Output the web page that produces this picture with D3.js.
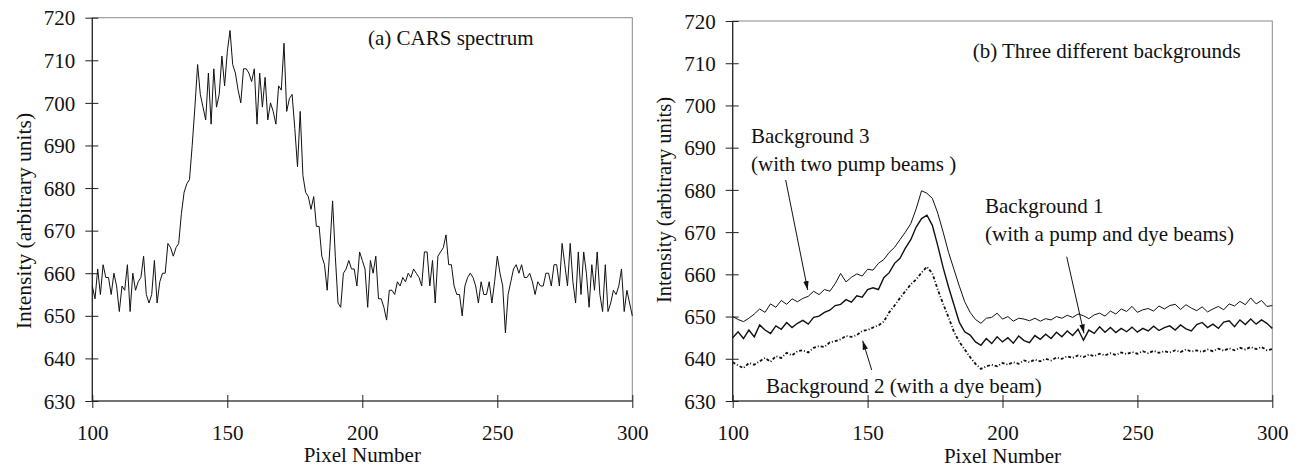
<!DOCTYPE html>
<html>
<head>
<meta charset="utf-8">
<script src="https://cdn.jsdelivr.net/npm/d3@7"></script>
<style>
  body { margin: 0; background: #fff; }
  svg text { font-family: "Liberation Serif", "Times New Roman", serif; fill: #111; }
</style>
</head>
<body>
<div id="chart"></div>
<script>
// ---- data ----
const pixelTicks = [100, 150, 200, 250, 300];
const intensityTicks = [630, 640, 650, 660, 670, 680, 690, 700, 710, 720];

// (a) CARS spectrum, one value per pixel from 100 to 300
const CARS_START = 100;
const carsSpectrum = [
  657, 654, 661, 655, 662, 659, 659, 655, 660, 657,
  651, 657, 656, 662, 651, 660, 656, 658, 659, 664,
  655, 653, 655, 663, 653, 658, 660, 660, 667, 666,
  664, 666, 667, 674, 679, 681, 682, 690, 699, 709,
  702, 699, 696, 707, 695, 708, 699, 702, 711, 704,
  712, 717, 709, 707, 703, 700, 708, 708, 707, 705,
  708, 695, 707, 699, 706, 696, 700, 698, 695, 704,
  703, 714, 698, 701, 702, 694, 685, 698, 683, 679,
  678, 675, 678, 671, 671, 664, 662, 656, 666, 677,
  664, 653, 652, 660, 661, 663, 661, 661, 657, 665,
  663, 661, 652, 663, 660, 664, 654, 654, 652, 649,
  656, 656, 655, 658, 657, 659, 658, 660, 659, 661,
  660, 659, 657, 665, 665, 657, 663, 653, 664, 665,
  666, 669, 662, 662, 657, 655, 655, 650, 657, 659,
  660, 659, 657, 653, 658, 655, 655, 658, 653, 658,
  664, 660, 657, 646, 655, 658, 661, 662, 660, 662,
  659, 659, 660, 658, 655, 658, 657, 657, 660, 660,
  657, 662, 662, 657, 667, 662, 657, 667, 658, 653,
  665, 655, 665, 660, 652, 662, 656, 665, 655, 651,
  662, 651, 653, 656, 655, 657, 661, 651, 656, 653,
  650
];

// (b) backgrounds, every 2nd pixel from 100 to 300
const BG_START = 100;
const BG_STEP = 2;
const background3 = [
  650.0, 649.3, 648.8, 649.6, 650.6, 651.8, 651.0, 653.0, 652.2, 653.8,
  652.9, 654.2, 653.5, 654.3, 654.8, 656.0, 655.2, 656.4, 656.0, 657.8,
  660.2, 658.2, 659.3, 660.1, 659.6, 661.2, 661.0, 662.6, 663.5, 665.2,
  666.4, 668.2, 670.0, 672.0, 675.5, 679.8, 679.2, 678.0, 674.5, 670.0,
  665.2, 661.2, 657.2, 653.5, 651.0, 649.3, 648.4, 649.6, 649.8, 650.8,
  649.4, 650.0, 648.9, 649.6, 649.4, 649.0, 649.6, 648.9, 649.5, 649.2,
  650.0, 649.6, 650.3, 649.8, 650.6, 650.2, 649.5, 650.4, 650.8, 650.1,
  651.3, 650.6, 651.8, 651.2, 652.4, 651.0, 651.6, 651.9, 651.3, 652.5,
  651.8, 652.6, 652.9, 651.7, 652.8, 652.0, 651.4, 652.3, 651.1, 651.8,
  652.4, 651.6, 653.0, 652.5, 653.6, 652.8, 654.4, 653.0, 653.8, 652.4,
  652.6
];
const background1 = [
  645.0, 646.4, 644.8, 646.8, 645.2, 648.0, 646.8, 646.0, 647.8, 647.0,
  648.6, 647.4, 648.4, 649.1, 648.2, 649.8, 650.1, 651.0, 651.5, 652.6,
  652.9, 654.0, 653.4, 654.9, 654.6, 656.4, 656.8, 656.4, 659.2, 660.4,
  662.6, 663.8, 666.2, 668.2, 671.2, 673.2, 674.0, 671.6, 666.8, 661.6,
  657.0, 652.8, 648.6, 646.4, 645.6, 644.0, 643.2, 644.8, 643.6, 645.2,
  644.0, 645.0, 643.7, 645.4, 644.3, 643.8, 645.5, 644.6, 645.8, 644.8,
  646.3, 645.2, 646.6, 645.5, 647.0, 644.4, 646.8, 646.0, 647.6, 646.3,
  647.4, 646.2, 647.2, 646.4, 647.5, 646.3, 647.2, 646.6, 647.7, 646.7,
  647.4, 647.8, 646.8, 648.0, 647.1, 646.6, 648.1, 648.6, 647.4, 648.2,
  647.2, 648.7, 649.0, 647.6, 649.2, 648.1, 649.4, 648.2, 649.2, 648.4,
  647.2
];
const background2 = [
  639.2, 638.4, 637.8, 639.0, 638.6, 639.4, 640.2, 639.3, 640.6, 640.2,
  641.4, 640.8, 641.8, 642.0, 641.5, 642.6, 643.0, 642.8, 643.9, 644.2,
  644.6, 645.4, 645.2, 645.6, 646.6, 646.8, 647.4, 647.9, 648.8, 651.0,
  652.6, 654.4, 656.0, 657.6, 658.8, 660.4, 661.8, 660.2, 656.4, 653.0,
  649.8, 646.4, 644.0, 642.2, 640.4, 638.8, 637.6, 638.2, 638.6, 638.2,
  639.0, 638.6, 639.2, 638.8, 639.6, 639.2, 639.8, 639.4, 640.0, 639.6,
  640.3, 640.0, 640.6, 640.2, 640.8, 640.4, 641.0, 640.6, 641.2, 640.8,
  641.3, 640.9, 641.5, 641.1, 641.6, 641.2, 641.8, 641.3, 641.9, 641.4,
  641.8, 641.5, 642.0, 641.6, 642.2, 641.7, 642.0, 641.6, 642.2, 641.8,
  642.4, 641.9, 642.5, 642.0, 642.6, 642.2, 642.8, 642.3, 642.8, 642.0,
  642.3
];

// ---- layout ----
const WIDTH = 1302;
const HEIGHT = 469;
const FONT = 21;

const svg = d3.select("#chart").append("svg")
  .attr("width", WIDTH)
  .attr("height", HEIGHT);

const defs = svg.append("defs");
defs.append("marker")
  .attr("id", "arrow")
  .attr("viewBox", "0 0 10 6")
  .attr("refX", 10)
  .attr("refY", 3)
  .attr("markerUnits", "userSpaceOnUse")
  .attr("markerWidth", 9)
  .attr("markerHeight", 6)
  .attr("orient", "auto")
  .append("path")
  .attr("d", "M0,0 L10,3 L0,6 Z")
  .attr("fill", "#111");

function toPoints(values, start, step) {
  return values.map((v, i) => ({ p: start + i * step, v: v }));
}

function drawPanel(box) {
  let x = d3.scaleLinear().domain([100, 300]).range([box.left, box.left + box.width]);
  let y = d3.scaleLinear().domain([630, 720]).range([box.top + box.height, box.top]);
  let g = svg.append("g");

  // plot frame: light top/right, dark left/bottom
  g.append("rect")
    .attr("x", box.left).attr("y", box.top)
    .attr("width", box.width).attr("height", box.height)
    .attr("fill", "none").attr("stroke", "#8a8a8a").attr("stroke-width", 1);

  // y axis, ticks crossing the line
  let yAxis = g.append("g")
    .attr("transform", "translate(" + box.left + ",0)")
    .call(d3.axisLeft(y).tickValues(intensityTicks).tickSize(7).tickPadding(0));
  yAxis.select(".domain").attr("stroke", "#222").attr("stroke-width", 1.2)
    .attr("d", "M0," + box.top + "V" + (box.top + box.height));
  yAxis.selectAll(".tick line").attr("x1", -7).attr("x2", 6).attr("stroke", "#222");
  yAxis.selectAll(".tick text")
    .attr("x", -17).attr("dy", "0.34em")
    .attr("font-size", FONT).attr("fill", "#111")
    .style("font-family", "'Liberation Serif', serif");

  // x axis
  let xAxis = g.append("g")
    .attr("transform", "translate(0," + (box.top + box.height) + ")")
    .call(d3.axisBottom(x).tickValues(pixelTicks).tickSize(7).tickPadding(0));
  xAxis.select(".domain").attr("stroke", "#222").attr("stroke-width", 1.2)
    .attr("d", "M" + box.left + ",0H" + (box.left + box.width));
  xAxis.selectAll(".tick line").attr("y1", -6).attr("y2", 7).attr("stroke", "#222");
  xAxis.selectAll(".tick text")
    .attr("y", 39).attr("dy", 0)
    .attr("font-size", FONT).attr("fill", "#111")
    .style("font-family", "'Liberation Serif', serif");

  // axis titles
  g.append("text")
    .attr("x", box.left + box.width / 2)
    .attr("y", box.xTitleY)
    .attr("text-anchor", "middle")
    .attr("font-size", FONT)
    .text("Pixel Number");

  g.append("text")
    .attr("transform", "translate(" + (box.left - 61.8) + "," + box.yTitleMid + ") rotate(-90)")
    .attr("text-anchor", "middle")
    .attr("font-size", box.yTitleSize)
    .text("Intensity (arbitrary units)");

  return { x: x, y: y, g: g };
}

function drawSeries(panel, points, style) {
  let line = d3.line()
    .x(d => panel.x(d.p))
    .y(d => panel.y(d.v));
  panel.g.append("path")
    .datum(points)
    .attr("fill", "none")
    .attr("stroke", "#111")
    .attr("stroke-width", style.width)
    .attr("stroke-dasharray", style.dash || null)
    .attr("stroke-linejoin", "miter")
    .attr("d", line);
}

function drawLabel(panel, lines, p, v, lineGap) {
  lines.forEach((t, i) => {
    panel.g.append("text")
      .attr("x", panel.x(p))
      .attr("y", panel.y(v) + i * lineGap)
      .attr("font-size", FONT)
      .text(t);
  });
}

function drawArrow(panel, from, to) {
  panel.g.append("line")
    .attr("x1", panel.x(from[0])).attr("y1", panel.y(from[1]))
    .attr("x2", panel.x(to[0])).attr("y2", panel.y(to[1]))
    .attr("stroke", "#111").attr("stroke-width", 1)
    .attr("marker-end", "url(#arrow)");
}

// ---- (a) CARS spectrum ----
let panelA = drawPanel({ left: 92.3, top: 17.7, width: 540, height: 383.3,
  xTitleY: 462, yTitleMid: 221, yTitleSize: 21.5 });
drawSeries(panelA, toPoints(carsSpectrum, CARS_START, 1), { width: 1 });
drawLabel(panelA, ["(a) CARS spectrum"], 202.1, 713.6, 0);

// ---- (b) three backgrounds ----
let panelB = drawPanel({ left: 732.7, top: 21, width: 539.6, height: 380,
  xTitleY: 463, yTitleMid: 200, yTitleSize: 20.5 });
drawSeries(panelB, toPoints(background3, BG_START, BG_STEP), { width: 1 });
drawSeries(panelB, toPoints(background1, BG_START, BG_STEP), { width: 1.4 });
drawSeries(panelB, toPoints(background2, BG_START, BG_STEP), { width: 1.8, dash: "3,2,1,2" });

drawLabel(panelB, ["(b) Three different backgrounds"], 188.95, 711.24, 0);
drawLabel(panelB, ["Background 3", "(with two pump beams )"], 106.78, 691.17, 28);
drawLabel(panelB, ["Background 1", "(with a pump and dye beams)"], 193.51, 674.45, 27.4);
drawLabel(panelB, ["Background 2 (with a dye beam)"], 112.34, 631.96, 0);

drawArrow(panelB, [119.64, 682.34], [127.8, 656.29]);
drawArrow(panelB, [223.8, 664.17], [230.2, 646.03]);
drawArrow(panelB, [151.52, 637.34], [148.18, 644.28]);
</script>
</body>
</html>
